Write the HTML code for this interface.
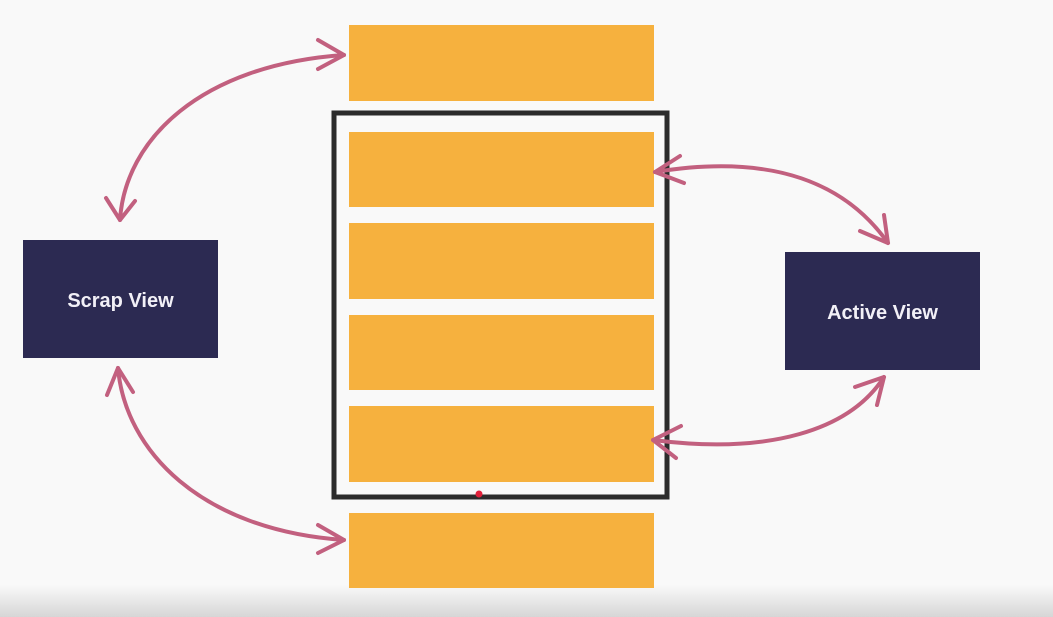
<!DOCTYPE html>
<html><head><meta charset="utf-8"><style>
html,body{margin:0;padding:0;width:1053px;height:617px;overflow:hidden;background:#f9f9f9}
svg{display:block}
</style></head><body>
<svg width="1053" height="617" viewBox="0 0 1053 617" xmlns="http://www.w3.org/2000/svg">
<defs><linearGradient id="g" x1="0" y1="0" x2="0" y2="1"><stop offset="0" stop-color="#f9f9f9"/><stop offset="1" stop-color="#d6d6d6"/></linearGradient></defs>
<rect width="1053" height="617" fill="#f9f9f9"/>
<rect y="585" width="1053" height="32" fill="url(#g)"/>
<g fill="#f6b13e">
<rect x="349" y="25" width="305" height="76"/>
<rect x="349" y="132" width="305" height="75"/>
<rect x="349" y="223" width="305" height="76"/>
<rect x="349" y="315" width="305" height="75"/>
<rect x="349" y="406" width="305" height="76"/>
<rect x="349" y="513" width="305" height="75"/>
</g>
<rect x="334" y="113" width="333" height="384" fill="none" stroke="#2c2c2c" stroke-width="5"/>
<circle cx="479" cy="494" r="3.5" fill="#e0203a"/>
<rect x="23" y="240" width="195" height="118" fill="#2c2a52"/>
<rect x="785" y="252" width="195" height="118" fill="#2c2a52"/>
<text x="120.5" y="307" text-anchor="middle" font-family="Liberation Sans, sans-serif" font-weight="bold" font-size="20" fill="#f2f0f7">Scrap View</text>
<text x="882.5" y="319" text-anchor="middle" font-family="Liberation Sans, sans-serif" font-weight="bold" font-size="20" fill="#f2f0f7">Active View</text>
<g fill="none" stroke="#c2607f" stroke-width="4" stroke-linecap="round" stroke-linejoin="round">
<path d="M120,220 C125,140 200,65 344,55"/>
<path d="M318,40 L344,55 L318,69"/>
<path d="M106,198 L120,220 L135,201"/>
<path d="M118,368 C125,450 200,530 344,540"/>
<path d="M107,395 L118,368 L133,392"/>
<path d="M318,525 L344,540 L318,553"/>
<path d="M655,172 C760,155 840,175 888,243"/>
<path d="M680,156 L655,172 L684,183"/>
<path d="M860,231 L888,243 L884,215"/>
<path d="M653,440 C770,455 850,430 884,377"/>
<path d="M681,426 L653,440 L676,458"/>
<path d="M855,387 L884,377 L877,405"/>
</g>
</svg>
</body></html>
